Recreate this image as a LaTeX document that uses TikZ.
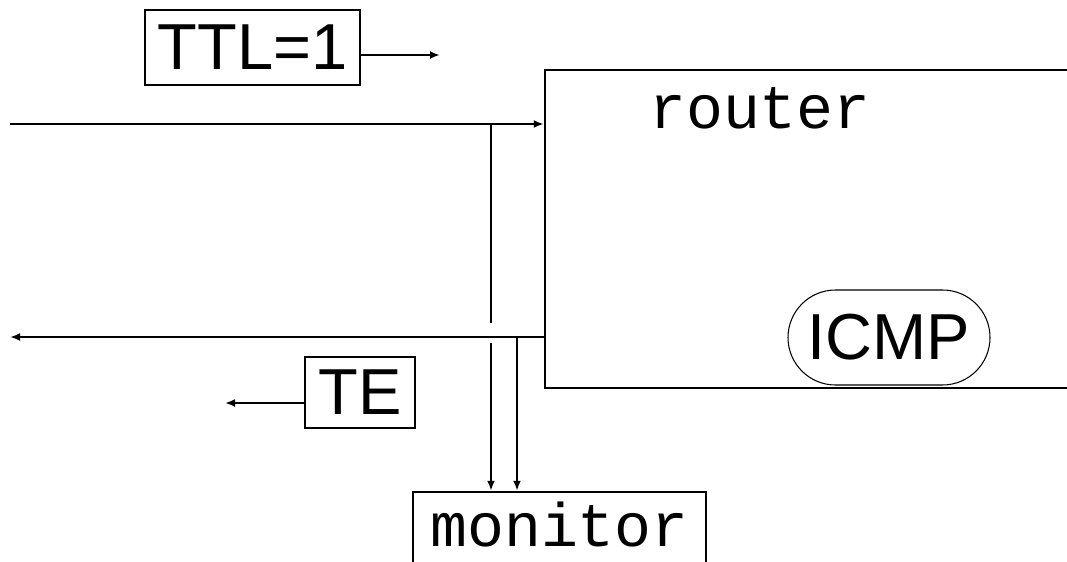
\documentclass[tikz,border=0pt]{standalone}
\usepackage{fontspec}
\setsansfont{Liberation Sans}
\setmonofont{Liberation Mono}
\usetikzlibrary{arrows.meta,shapes.misc}

\begin{document}
\begin{tikzpicture}[line width=1.4pt,
    tip/.style={-{Latex[length=2mm,width=1.6mm]}},
    sflabel/.style={font=\fontsize{37}{40}\selectfont\sffamily, inner sep=0pt},
    ttlabel/.style={font=\fontsize{35}{38}\selectfont\ttfamily, inner sep=0pt}]
    \useasboundingbox (0,0) rectangle (21.34,11.22);

    % The router box, open on the right
    \node[draw, minimum width=11.5cm, minimum height=6.36cm] (router) at (16.65,6.64) {};
    \node[ttlabel] (routername) at (15.2,9.06) {router};
    \node[draw, rounded rectangle, line width=0.6pt, sflabel, minimum width=4.04cm, minimum height=1.9cm] (icmp) at (17.78,4.47) {ICMP};

    % Packets on the wire
    \node[draw, sflabel, minimum width=4.3cm, minimum height=1.5cm] (ttl) at (5.05,10.27) {TTL=1};
    \node[draw, sflabel, minimum width=2.2cm, minimum height=1.42cm] (te) at (7.2,3.37) {TE};
    \coordinate[] (ttlend) at (8.8,10.12);
    \coordinate[] (teend) at (4.5,3.16);
    \draw[tip] (ttlend -| ttl.east) -- (ttlend);
    \draw[tip] (teend -| te.west) -- (teend);

    % Lines in and out of the router
    \coordinate[] (in) at (0.2,8.74);
    \coordinate[] (out) at (0.2,4.48);
    \draw[tip] (in) -- (in -| router.west);
    \draw[tip] (out -| router.west) -- (out);

    % The monitor and its two taps
    \node[draw, minimum width=5.86cm, minimum height=2cm] (monitor) at (11.19,0.38) {};
    \node[ttlabel] (monitorname) at (11.19,0.72) {monitor};
    \coordinate[] (tapin) at (9.82,8.74);
    \coordinate[] (tapout) at (10.34,4.48);
    \coordinate[] (gaptop) at (9.82,4.76);
    \coordinate[] (gapbot) at (9.82,4.36);
    \draw (tapin) -- (gaptop);
    \draw[tip] (gapbot) -- (gapbot |- monitor.north);
    \draw[tip] (tapout) -- (tapout |- monitor.north);
\end{tikzpicture}
\end{document}
